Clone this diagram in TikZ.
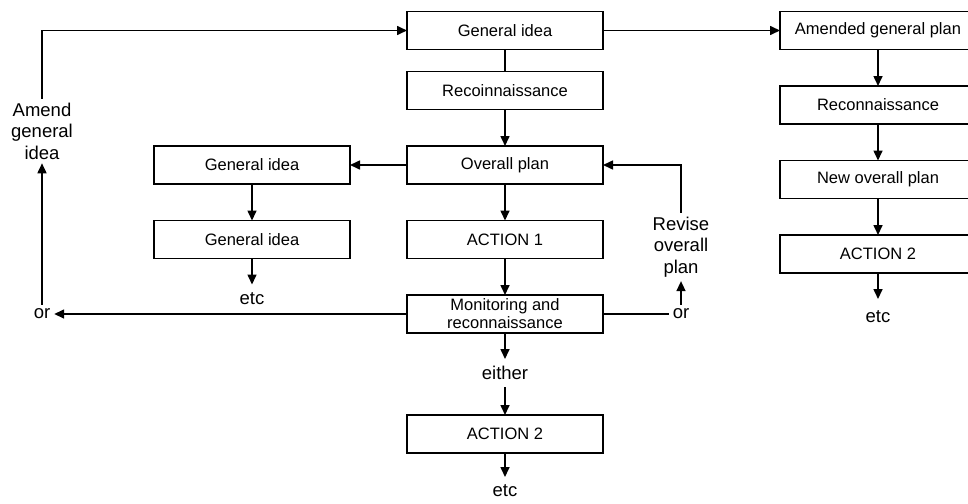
\documentclass[tikz,border=0pt]{standalone}
\usepackage{fontspec}
\setmainfont{Liberation Sans}
\usetikzlibrary{arrows.meta, positioning}

\begin{document}
\begin{tikzpicture}[x=1pt, y=-1pt, node distance=36.5pt,
      >={Triangle[length=10pt, width=9pt]}, line width=1.6pt,
      box/.style={draw, line width=1.8pt, minimum width=196pt,
                  minimum height=38pt, inner sep=1pt, outer sep=0pt,
                  align=center, font=\fontsize{16.5}{18}\selectfont},
      lbl/.style={font=\fontsize{18.5}{21.5}\selectfont, align=center,
                  inner sep=4pt, outer sep=0pt},
      tail/.style={lbl, minimum height=28pt}]

    \useasboundingbox (0,0) rectangle (968,503);

    % middle column
    \node[box] (gi) at (505,30.5) {General idea};
    \node[box, below=22pt of gi] (rec) {Recoinnaissance};
    \node[box, below=of rec] (op) {Overall plan};
    \node[box, below=of op] (act1) {ACTION 1};
    \node[box, below=of act1] (mon) {Monitoring and\\reconnaissance};
    \node[tail, below=26pt of mon] (either) {either};
    \node[box, below=28pt of either] (act2) {ACTION 2};
    \node[tail, below=24pt of act2] (etcA) {etc};

    % left column
    \node[box, left=57pt of op] (gl1) {General idea};
    \node[box, below=of gl1] (gl2) {General idea};
    \node[tail, below=26pt of gl2] (etcL) {etc};

    % right column
    \node[box] (agp) at (878,30.5) {Amended general plan};
    \node[box, below=of agp] (rc) {Reconnaissance};
    \node[box, below=of rc] (nop) {New overall plan};
    \node[box, below=of nop] (act2r) {ACTION 2};
    \node[tail, below=26pt of act2r, minimum height=36pt] (etcR) {etc};

    % loop labels
    \node[lbl] (amend) at (42,131) {Amend\\general\\idea};
    \node[lbl] (orL) at (mon.west -| amend) {or};
    \node[lbl] (revise) at (681,247) {Revise\\overall\\plan};
    \node[lbl] (orR) at (mon.east -| revise) {or};

    \draw (gi) -- (rec);
    \draw[->] (rec) -- (op);
    \draw[->] (op) -- (act1);
    \draw[->] (act1) -- (mon);
    \draw[->] (mon) -- (either);
    \draw[->] (either) -- (act2);
    \draw[->] (act2) -- (etcA);

    \draw[->] (op) -- (gl1);
    \draw[->] (gl1) -- (gl2);
    \draw[->] (gl2) -- (etcL);

    \draw[->] (gi) -- (agp);
    \draw[->] (agp) -- (rc);
    \draw[->] (rc) -- (nop);
    \draw[->] (nop) -- (act2r);
    \draw[->] (act2r) -- (etcR);

    \draw[->] (mon) -- (orL);
    \draw[->] (orL) -- (amend);
    \draw[->] (amend) |- (gi);
    \draw (mon) -- (orR);
    \draw[->] (orR) -- (revise);
    \draw[->] (revise) |- (op);
  \end{tikzpicture}
\end{document}
